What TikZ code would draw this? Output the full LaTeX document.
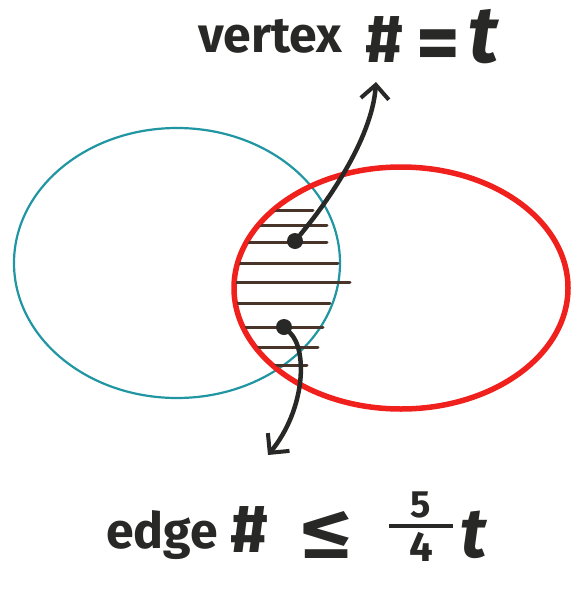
\documentclass[tikz,border=0pt]{standalone}
\usepackage{fontspec}
\setmainfont{Fira Sans}
\usetikzlibrary{arrows.meta,positioning}

\definecolor{vteal}{RGB}{32,150,162}
\definecolor{vred}{RGB}{240,32,28}
\definecolor{vink}{RGB}{40,40,38}
\definecolor{vhatch}{RGB}{72,52,40}

\begin{document}
\begin{tikzpicture}[x=1pt,y=-1pt,
        setA/.style={draw=vteal, line width=2.2pt},
        setB/.style={draw=vred, line width=5.5pt},
        hatch/.style={draw=vhatch, line width=3pt, line cap=round},
        dot/.style={circle, fill=vink, inner sep=0pt, minimum size=16pt},
        pointer/.style={draw=vink, line width=4.5pt, line cap=round, -{Straight Barb[length=14pt, width=28pt, line width=4pt]}},
        label/.style={font=\fontsize{50}{56}\selectfont\bfseries, text=vink, inner sep=0pt, anchor=base west},
        sym/.style={label, font=\fontsize{#1}{#1}\selectfont\bfseries},
        digit/.style={font=\fontsize{38}{44}\selectfont\bfseries, text=vink, inner sep=0pt},
        fracbar/.style={fill=vink, inner sep=0pt, minimum width=64pt, minimum height=4.5pt},
      ]
      \useasboundingbox (0,0) rectangle (584,592);
      \fill[white] (0,0) rectangle (584,592);
      % the two sets
      \draw [setA] (177,263) ellipse [x radius=163, y radius=135];
      \draw [setB] (401,288) ellipse [x radius=167, y radius=121];
      % hatched common part
      \begin{scope}
        \clip (401,288) ellipse [x radius=165, y radius=119];
        \foreach \y/\xr in {210/313, 225/327, 242/327, 263/338, 282/350, 303/330, 327/323, 347/318, 365/307}
          \draw [hatch] (225,\y) -- (\xr,\y);
      \end{scope}
      \node [dot] (vdot) at (295,241) {};
      \node [dot] (edot) at (284,327) {};
      % top label
      \node [label] (vertex) at (198,52) {vertex};
      \node [sym=68] (vhash) at (365,62) {\#};
      \node [sym=84] (veq) at (416,71) {=};
      \node [sym=80] (vt) at (468,62) {\textit{t}};
      % bottom label
      \node [label] (edge) at (106,548) {edge};
      \node [sym=68] (ehash) at (230,552) {\#};
      \node [sym=72] (leq) at (300,558) {\scalebox{1.4}[1]{≤}};
      \node [fracbar] (bar) at (421,526) {};
      \node [digit, above=5pt of bar] (five) {5};
      \node [digit, below=4pt of bar, font=\fontsize{42}{46}\selectfont\bfseries] (four) {4};
      \node [sym=70] (tee) at (460,557) {\textit{t}};
      % pointers
      \coordinate (vtip) at (376,82);
      \coordinate (etip) at (268,455);
      \draw [pointer] (vdot) .. controls (325,205) and (372,140) .. (vtip);
      \draw [pointer] (edot) .. controls (308,350) and (305,410) .. (etip);
    \end{tikzpicture}
\end{document}
